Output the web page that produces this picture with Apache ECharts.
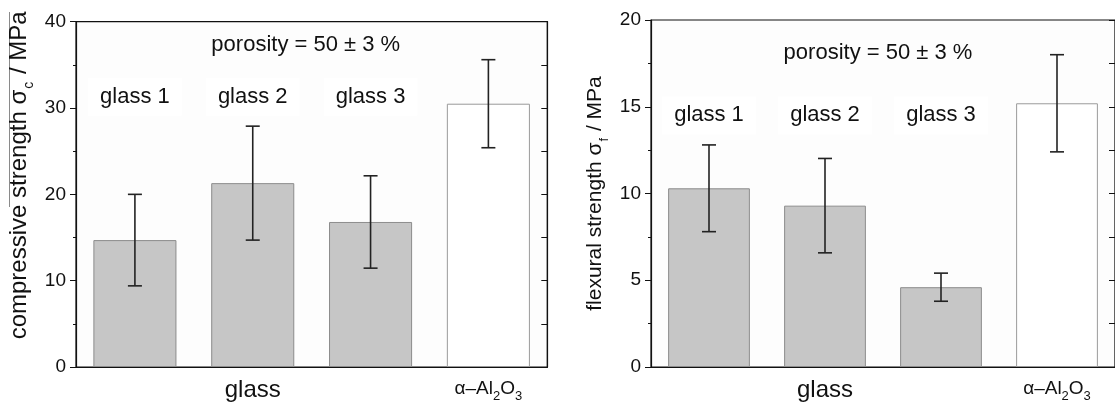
<!DOCTYPE html>
<html>
<head>
<meta charset="utf-8">
<script src="https://cdn.jsdelivr.net/npm/echarts@6/dist/echarts.min.js"></script>
<style>
html,body{margin:0;padding:0;background:#fff;}
#chart{width:1115px;height:403px;}
</style>
</head>
<body>
<div id="chart"></div>
<script>
// ---- data ----
const categories = ['glass 1', 'glass 2', 'glass 3', 'α–Al2O3'];
const compMean = [14.7, 21.3, 16.8, 30.5];
const compErr = [5.3, 6.6, 5.35, 5.1];
const flexMean = [10.3, 9.3, 4.6, 15.2];
const flexErr = [2.5, 2.72, 0.81, 2.8];
const glassLabels = ['glass 1', 'glass 2', 'glass 3'];
const compLabelLevel = 31.3;
const flexLabelLevel = 14.5;
const porosityText = 'porosity = 50 ± 3 %';
const compPorosityLevel = 37.3;
const flexPorosityLevel = 18.1;
const compTicks = { min: 0, max: 40, interval: 10 };
const flexTicks = { min: 0, max: 20, interval: 5 };

// ---- styles ----
const FONT = 'Liberation Sans, Arial, sans-serif';
const INK = '#111111';

function barData(means) {
  return means.map((v, i) => i === 3
    ? { value: v, itemStyle: { color: '#ffffff', borderColor: '#9a9a9a', borderWidth: 1 } }
    : { value: v, itemStyle: { color: '#c6c6c6', borderColor: '#8c8c8c', borderWidth: 1 } });
}

function errRender(params, api) {
  const x = api.value(0), m = api.value(1), e = api.value(2);
  const hi = api.coord([x, m + e]);
  const lo = api.coord([x, m - e]);
  const h = 7;
  const st = { stroke: '#222', lineWidth: 1.6 };
  return {
    type: 'group',
    children: [
      { type: 'line', shape: { x1: hi[0], y1: hi[1], x2: lo[0], y2: lo[1] }, style: st },
      { type: 'line', shape: { x1: hi[0] - h, y1: hi[1], x2: hi[0] + h, y2: hi[1] }, style: st },
      { type: 'line', shape: { x1: lo[0] - h, y1: lo[1], x2: lo[0] + h, y2: lo[1] }, style: st }
    ]
  };
}

const xLabelRich = {
  g: { fontFamily: FONT, fontSize: 24, color: INK, lineHeight: 26, verticalAlign: 'top' },
  n: { fontFamily: FONT, fontSize: 19, color: INK, lineHeight: 20, verticalAlign: 'top', padding: [1, 0, 0, 0] },
  s: { fontFamily: FONT, fontSize: 13, color: INK, lineHeight: 13, verticalAlign: 'top', padding: [12, 0, 0, 0] }
};

function xAxisFor(gi) {
  return {
    type: 'category', gridIndex: gi, data: categories,
    axisLine: { lineStyle: { color: INK, width: 1.2 } },
    axisTick: { show: false },
    axisLabel: {
      interval: 0, margin: 11, fontFamily: FONT, fontSize: 19, color: INK,
      formatter: (v, i) => i === 1 ? '{g|glass}' : (i === 3 ? '{n|α–Al}{s|2}{n|O}{s|3}' : ''),
      rich: xLabelRich
    }
  };
}

function yAxesFor(gi, t, name, sub, nameSize, nameGap, namePad) {
  return [{
    type: 'value', gridIndex: gi, min: t.min, max: t.max, interval: t.interval,
    position: 'left',
    axisLine: { show: true, lineStyle: { color: INK, width: 1.2 } },
    axisTick: { show: true, inside: false, length: 6, lineStyle: { color: INK } },
    minorTick: { show: true, splitNumber: 2, length: 3, lineStyle: { color: INK } },
    splitLine: { show: false },
    axisLabel: { fontFamily: FONT, fontSize: 19, color: INK, margin: 10 },
    name: '{n|' + name + '}{s|' + sub + '}{n| / MPa}',
    nameLocation: 'middle', nameRotate: 90, nameGap: nameGap,
    nameTextStyle: {
      padding: namePad,
      rich: {
        n: { fontFamily: FONT, fontSize: nameSize, color: INK, lineHeight: nameSize + 2, verticalAlign: 'top' },
        s: { fontFamily: FONT, fontSize: Math.round(nameSize * 0.6), color: INK, lineHeight: Math.round(nameSize * 0.6), verticalAlign: 'top', padding: [Math.round(nameSize * 0.62), 1, 0, 1] }
      }
    }
  }, {
    type: 'value', gridIndex: gi, min: t.min, max: t.max, interval: t.interval / 2,
    position: 'right',
    axisLine: { show: true, lineStyle: { color: INK, width: 1.2 } },
    axisTick: { show: true, inside: true, length: 6, lineStyle: { color: INK } },
    splitLine: { show: false },
    axisLabel: { show: false }
  }];
}

function labelSeries(gi, level, porosityLevel) {
  const lab = { fontFamily: FONT, fontSize: 22, color: INK, textBorderWidth: 0, opacity: 1 };
  const common = {
    type: 'scatter', xAxisIndex: gi, yAxisIndex: gi * 2, symbolSize: 0, silent: true, z: 5,
    itemStyle: { opacity: 1, color: 'rgba(0,0,0,0)' }, emphasis: { disabled: true }
  };
  return [{
    ...common,
    data: glassLabels.map((t, i) => [i, level]),
    label: { show: true, position: 'inside', formatter: p => glassLabels[p.dataIndex], ...lab, backgroundColor: '#ffffff', padding: [8, 12] }
  }, {
    ...common,
    data: [[1, porosityLevel]],
    label: { show: true, position: 'inside', offset: [53, 0], formatter: porosityText, ...lab }
  }];
}

const yName1 = yAxesFor(0, compTicks, 'compressive strength σ', 'c', 24, 43, [0, 0, 0, 38]);
const yName2 = yAxesFor(1, flexTicks, 'flexural strength σ', 'f', 21, 43, [0, 0, 0, 0]);

const option = {
  backgroundColor: '#ffffff',
  animation: false,
  grid: [
    { left: 76, top: 21.7, width: 471.3, height: 347.6, show: true, borderColor: INK, borderWidth: 1.2, backgroundColor: '#fdfdfd' },
    { left: 651, top: 20, width: 470.4, height: 349.3, show: true, borderColor: INK, borderWidth: 1.2, backgroundColor: '#fdfdfd' }
  ],
  xAxis: [xAxisFor(0), xAxisFor(1)],
  yAxis: [...yName1, ...yName2],
  graphic: [
    { type: 'line', shape: { x1: 9.5, y1: 12, x2: 9.5, y2: 207 }, style: { stroke: '#8a8a8a', lineWidth: 1 } }
  ],
  series: [
    { type: 'bar', xAxisIndex: 0, yAxisIndex: 0, data: barData(compMean), barWidth: '70.5%', z: 2 },
    { type: 'custom', xAxisIndex: 0, yAxisIndex: 0, renderItem: errRender, data: compMean.map((m, i) => [i, m, compErr[i]]), z: 3 },
    ...labelSeries(0, compLabelLevel, compPorosityLevel),
    { type: 'bar', xAxisIndex: 1, yAxisIndex: 2, data: barData(flexMean), barWidth: '70.5%', z: 2 },
    { type: 'custom', xAxisIndex: 1, yAxisIndex: 2, renderItem: errRender, data: flexMean.map((m, i) => [i, m, flexErr[i]]), z: 3 },
    ...labelSeries(1, flexLabelLevel, flexPorosityLevel)
  ]
};

const chart = echarts.init(document.getElementById('chart'), null, { renderer: 'canvas' });
chart.setOption(option);
</script>
</body>
</html>
